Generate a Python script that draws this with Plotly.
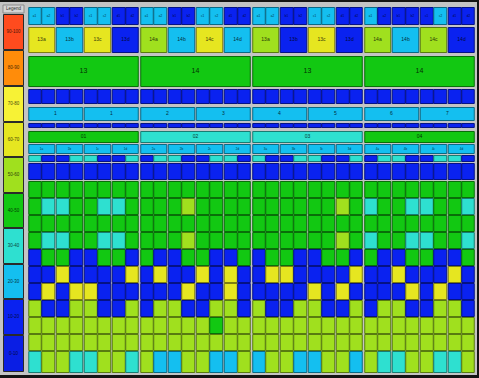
import plotly.graph_objects as go

# ------------------------------------------------------------------ data
LEGEND_LABELS = ["90-100", "80-90", "70-80", "60-70", "50-60",
                 "40-50", "30-40", "20-30", "10-20", "0-10"]
LEGEND_LOWS = [90, 80, 70, 60, 50, 40, 30, 20, 10, 0]
LEGEND_COLORS = ["#ff4b1e", "#ff8c0a", "#f7f235", "#e6e620", "#a0e01e",
                 "#12c812", "#2ee0d0", "#14bff0", "#0a22f0", "#0a1ee4"]

GROUP_LABELS = ["13", "14", "13", "14"]
SUB_LABELS = ["13a", "13b", "13c", "13d", "14a", "14b", "14c", "14d",
              "13a", "13b", "13c", "13d", "14a", "14b", "14c", "14d"]
SECTION_LABELS = ["1", "1", "2", "3", "4", "5", "6", "7"]
PHASE_LABELS = ["01", "02", "03", "04"]
TOP_LABELS = ["a1", "a2", "b1", "b2", "c1", "c2", "d1", "d2",
              "a1", "a2", "b1", "b2", "c1", "c2", "d1", "d2",
              "a1", "a2", "b1", "b2", "c1", "c2", "d1", "d2",
              "a1", "a2", "b1", "b2", "c1", "c2", "d1", "d2"]
MID_LABELS = ["1a", "1b", "1c", "1d", "2a", "2b", "2c", "2d",
              "3a", "3b", "3c", "3d", "4a", "4b", "4c", "4d"]

ROW01 = [25, 25, 15, 15, 25, 25, 15, 15, 25, 25, 15, 15, 25, 25, 15, 15,
         25, 25, 15, 15, 25, 25, 15, 15, 25, 15, 15, 15, 15, 25, 15, 15]
ROW02 = [65, 25, 65, 15, 55, 25, 65, 25, 55, 15, 65, 15, 55, 25, 55, 15]
ROW03 = [45, 45, 45, 45]
ROW04 = [15, 15, 15, 15, 15, 15, 15, 15, 15, 15, 15, 15, 15, 15, 15, 15,
         15, 15, 15, 15, 15, 15, 15, 15, 15, 15, 15, 15, 15, 15, 15, 15]
ROW05 = [25, 25, 25, 25, 25, 25, 25, 25]
ROW06 = [15, 15, 15, 15, 15, 15, 15, 15, 15, 15, 15, 15, 15, 15, 15, 15,
         15, 15, 15, 15, 15, 15, 15, 15, 15, 15, 15, 15, 15, 15, 15, 15]
ROW07 = [45, 35, 35, 45]
ROW08 = [25, 25, 25, 25, 25, 25, 25, 25, 25, 25, 25, 25, 25, 25, 25, 25]
ROW09 = [35, 15, 15, 35, 35, 15, 15, 35, 15, 35, 35, 15, 15, 35, 35, 15,
         35, 15, 15, 35, 35, 15, 15, 35, 15, 35, 35, 15, 15, 35, 35, 15]
ROW10 = [15, 15, 15, 15, 15, 15, 15, 15, 15, 15, 15, 15, 15, 15, 15, 15,
         15, 15, 15, 15, 15, 15, 15, 15, 15, 15, 15, 15, 15, 15, 15, 15]
ROW11 = [45, 45, 45, 45, 45, 45, 45, 45, 45, 45, 45, 45, 45, 45, 45, 45,
         45, 45, 45, 45, 45, 45, 45, 45, 45, 45, 45, 45, 45, 45, 45, 45]
ROW12 = [45, 35, 35, 45, 45, 35, 35, 45, 45, 45, 45, 55, 45, 45, 45, 45,
         45, 45, 45, 45, 45, 45, 55, 45, 35, 45, 45, 35, 35, 45, 45, 35]
ROW13 = [45, 45, 45, 45, 45, 45, 45, 45, 45, 45, 45, 45, 45, 45, 45, 45,
         45, 45, 45, 45, 45, 45, 45, 45, 45, 45, 45, 45, 45, 45, 45, 45]
ROW14 = [45, 35, 35, 45, 45, 35, 35, 45, 45, 45, 45, 55, 45, 45, 45, 45,
         45, 45, 45, 45, 45, 45, 55, 45, 35, 45, 45, 35, 35, 45, 45, 35]
ROW15 = [15, 45, 45, 15, 15, 45, 45, 15, 45, 15, 15, 45, 45, 15, 15, 45,
         15, 45, 45, 15, 15, 45, 45, 15, 45, 15, 15, 45, 45, 15, 15, 45]
ROW16 = [15, 15, 65, 15, 15, 15, 15, 65, 15, 65, 15, 15, 65, 15, 65, 15,
         15, 65, 65, 15, 15, 15, 15, 65, 15, 15, 65, 15, 15, 15, 65, 15]
ROW17 = [15, 65, 15, 65, 65, 15, 15, 15, 15, 15, 15, 65, 15, 15, 65, 15,
         15, 15, 15, 15, 65, 15, 65, 15, 15, 15, 15, 65, 15, 65, 15, 15]
ROW18 = [55, 15, 15, 55, 55, 15, 15, 55, 15, 55, 55, 15, 15, 55, 55, 15,
         55, 15, 15, 55, 55, 15, 15, 55, 15, 55, 55, 15, 15, 55, 55, 15]
ROW19 = [55, 55, 55, 55, 55, 55, 55, 55, 55, 55, 55, 55, 55, 45, 55, 55,
         55, 55, 55, 55, 55, 55, 55, 55, 55, 55, 55, 55, 55, 55, 55, 55]
ROW20 = [55, 55, 55, 55, 55, 55, 55, 55, 55, 55, 55, 55, 55, 55, 55, 55,
         55, 55, 55, 55, 55, 55, 55, 55, 55, 55, 55, 55, 55, 55, 55, 55]
ROW21 = [35, 55, 55, 35, 35, 55, 55, 35, 55, 25, 25, 55, 55, 25, 25, 55,
         25, 55, 55, 25, 25, 55, 55, 25, 55, 35, 35, 55, 55, 35, 35, 55]

# ------------------------------------------------------------------ layout constants
PX0 = 27.5      # pixel where column 0 starts
COLW = 14.0     # pixel width of one column
FONT = "Liberation Sans"

# (values, labels, columns per cell, label font size)
ROW_SPECS = [
    (ROW01, TOP_LABELS, 1, 3), (ROW02, SUB_LABELS, 2, 5),
    (ROW03, GROUP_LABELS, 8, 7), (ROW04, None, 1, 0),
    (ROW05, SECTION_LABELS, 4, 5), (ROW06, None, 1, 0),
    (ROW07, PHASE_LABELS, 8, 5), (ROW08, MID_LABELS, 2, 3),
    (ROW09, None, 1, 0), (ROW10, None, 1, 0), (ROW11, None, 1, 0),
    (ROW12, None, 1, 0), (ROW13, None, 1, 0), (ROW14, None, 1, 0),
    (ROW15, None, 1, 0), (ROW16, None, 1, 0), (ROW17, None, 1, 0),
    (ROW18, None, 1, 0), (ROW19, None, 1, 0), (ROW20, None, 1, 0),
    (ROW21, None, 1, 0),
]
ROW_EDGES = [(7, 25), (27, 53), (56, 87), (89, 104), (107, 121), (123, 128),
             (131, 143), (144, 154), (155, 162), (163, 180), (181, 198),
             (198, 215), (215, 232), (232, 249), (249, 266), (266, 283),
             (283, 300), (300, 317), (317, 334), (334, 351), (351, 373)]
LEGEND_EDGES = [(14, 50), (50, 86), (86, 122), (122, 157), (157, 193),
                (193, 228), (228, 264), (264, 299), (299, 335), (335, 372)]
LEGEND_HEAD = (5, 13)
LEGEND_PX = (3, 24)


def px_to_x(p):
    return (p - PX0) / COLW


def color_for(v):
    for lo, c in zip(LEGEND_LOWS, LEGEND_COLORS):
        if v >= lo:
            return c
    return LEGEND_COLORS[-1]


def shade(hexc, f):
    r, g, b = int(hexc[1:3], 16), int(hexc[3:5], 16), int(hexc[5:7], 16)
    return "#%02x%02x%02x" % (int(r * f), int(g * f), int(b * f))


def inset(b):
    if b % 8 == 0:
        return 1.25
    if b % 2 == 0:
        return 0.75
    return 0.25


bases, widths, ys, thick, fills, lines = [], [], [], [], [], []
tx, ty, tt, tsize, tcol = [], [], [], [], []

for (vals, labs, span, fs), (top, bot) in zip(ROW_SPECS, ROW_EDGES):
    yc = (top + bot) / 2.0
    for i, v in enumerate(vals):
        c0, c1 = i * span, (i + 1) * span
        left = c0 + inset(c0) / COLW
        right = c1 - inset(c1) / COLW
        fill = color_for(v)
        bases.append(left)
        widths.append(right - left)
        ys.append(yc)
        thick.append(bot - top - 1)
        fills.append(fill)
        lines.append(shade(fill, 0.55))
        if labs:
            tx.append((c0 + c1) / 2.0)
            ty.append(yc)
            tt.append(labs[i])
            tsize.append(fs)
            tcol.append(shade(fill, 0.25))

# legend column
lx0, lx1 = px_to_x(LEGEND_PX[0]), px_to_x(LEGEND_PX[1])
bases.append(lx0)
widths.append(lx1 - lx0)
ys.append(sum(LEGEND_HEAD) / 2.0)
thick.append(LEGEND_HEAD[1] - LEGEND_HEAD[0])
fills.append("#d4d4d4")
lines.append("#8a8a8a")
tx.append((lx0 + lx1) / 2.0)
ty.append(sum(LEGEND_HEAD) / 2.0)
tt.append("Legend")
tsize.append(4.5)
tcol.append("#303030")
for lab, col, (top, bot) in zip(LEGEND_LABELS, LEGEND_COLORS, LEGEND_EDGES):
    bases.append(lx0 + 0.5 / COLW)
    widths.append(lx1 - lx0 - 1.0 / COLW)
    ys.append((top + bot) / 2.0)
    thick.append(bot - top - 1)
    fills.append(col)
    lines.append("#2a2a2a")
    tx.append((lx0 + lx1) / 2.0)
    ty.append((top + bot) / 2.0)
    tt.append(lab)
    tsize.append(4.5)
    tcol.append(shade(col, 0.3))

fig = go.Figure()
fig.add_trace(go.Bar(
    orientation="h", y=ys, x=widths, base=bases, width=thick,
    marker=dict(color=fills, line=dict(color=lines, width=1)),
    hoverinfo="skip", showlegend=False,
))
fig.add_trace(go.Scatter(
    x=tx, y=ty, mode="text", text=tt,
    textfont=dict(size=tsize, color=tcol, family=FONT),
    hoverinfo="skip", showlegend=False,
))

fig.update_layout(
    width=479, height=378,
    margin=dict(l=0, r=2, t=2, b=3, pad=0),
    paper_bgcolor="#141414",
    plot_bgcolor="#c4c4c4",
    barmode="overlay",
    xaxis=dict(range=[px_to_x(0), px_to_x(477)], visible=False,
               fixedrange=True),
    yaxis=dict(range=[375, 2], visible=False, fixedrange=True),
    showlegend=False,
)

fig.write_html("out.html")
